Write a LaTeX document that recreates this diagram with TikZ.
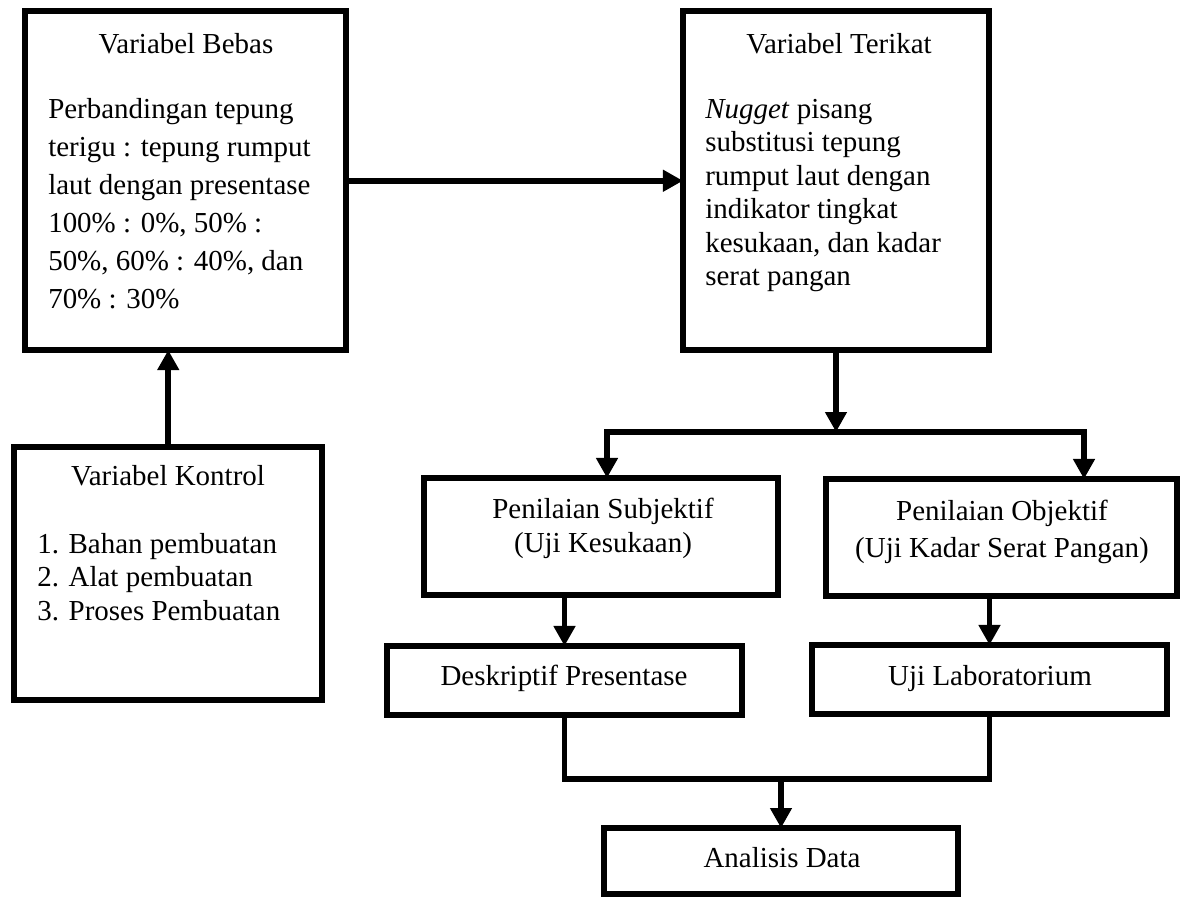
\documentclass[tikz,border=0pt]{standalone}
\usepackage{fontspec}
\setmainfont{Liberation Serif}
\usetikzlibrary{arrows.meta}

\tikzset{
  kotak/.style={draw, line width=0.15cm, inner sep=0pt, outer sep=0pt},
  garis/.style={line width=0.14cm},
  panah/.style={garis, -{Triangle[length=0.5cm,width=0.52cm]}},
  teks/.style={inner sep=0pt, font=\fontsize{20.6}{24}\selectfont},
}

\begin{document}
\begin{tikzpicture}[x=0.025cm, y=-0.025cm]
        \useasboundingbox (0,0) rectangle (1184,897);

        % kotak variabel
        \node[kotak, minimum width=8.025cm, minimum height=8.4625cm] (bebas) at (185.5,180.75) {};
        \node[kotak, minimum width=7.65cm, minimum height=8.4625cm] (terikat) at (836,180.75) {};
        \node[kotak, minimum width=7.6875cm, minimum height=6.325cm] (kontrol) at (168.25,573.5) {};

        % kotak penilaian
        \node[kotak, minimum width=8.85cm, minimum height=2.925cm] (subjektif) at (601,536.5) {};
        \node[kotak, minimum width=8.775cm, minimum height=2.925cm] (objektif) at (1001.5,537.5) {};
        \node[kotak, minimum width=8.875cm, minimum height=1.725cm] (deskriptif) at (564.5,680.5) {};
        \node[kotak, minimum width=8.875cm, minimum height=1.725cm] (ujilab) at (989.5,679.5) {};
        \node[kotak, minimum width=8.85cm, minimum height=1.65cm] (analisis) at (781,861) {};

        % teks
        \node[teks, anchor=base] (bebas-judul) at (186,53) {Variabel Bebas};
        \foreach \baris [count=\i] in {Perbandingan tepung, terigu : tepung rumput, laut dengan presentase,
            {100\% : 0\%, 50\% :}, {50\%, 60\% : 40\%, dan}, 70\% : 30\%}
            \node[teks, anchor=base west] (bebas-\i) at (48,{118+38*(\i-1)}) {\baris};

        \node[teks, anchor=base] (terikat-judul) at (839,53) {Variabel Terikat};
        \foreach \baris [count=\i] in {\textit{Nugget} pisang, substitusi tepung, rumput laut dengan,
            indikator tingkat, {kesukaan, dan kadar}, serat pangan}
            \node[teks, anchor=base west] (terikat-\i) at (705,{118+33.5*(\i-1)}) {\baris};

        \node[teks, anchor=base] (kontrol-judul) at (168,485) {Variabel Kontrol};
        \foreach \baris [count=\i] in {1. Bahan pembuatan, 2. Alat pembuatan, 3. Proses Pembuatan}
            \node[teks, anchor=base west] (kontrol-\i) at (37,{553+33.5*(\i-1)}) {\baris};

        \node[teks, anchor=base] (subjektif-1) at (603,518) {Penilaian Subjektif};
        \node[teks, anchor=base] (subjektif-2) at (603,552) {(Uji Kesukaan)};
        \node[teks, anchor=base] (objektif-1) at (1002,520) {Penilaian Objektif};
        \node[teks, anchor=base] (objektif-2) at (1002,557) {(Uji Kadar Serat Pangan)};
        \node[teks, anchor=base] (deskriptif-1) at (564,685) {Deskriptif Presentase};
        \node[teks, anchor=base] (ujilab-1) at (990,685) {Uji Laboratorium};
        \node[teks, anchor=base] (analisis-1) at (782,867) {Analisis Data};

        % panah
        \coordinate (cabang) at (836,432);
        \coordinate (kiri) at (607,432); \coordinate (kanan) at (1084,432);
        \coordinate (bawah) at (781,779);

        \draw[panah] (kontrol.north) -- (kontrol.north |- bebas.south);
        \draw[panah] (bebas.east) -- (terikat.west);
        \draw[panah] (terikat.south) -- (cabang);
        \draw[panah] (kanan) -- (kiri) -- (kiri |- subjektif.north);
        \draw[panah] (kiri) -- (kanan) -- (kanan |- objektif.north);
        \draw[panah] (deskriptif.north |- subjektif.south) -- (deskriptif.north);
        \draw[panah] (ujilab.north |- objektif.south) -- (ujilab.north);
        \draw[garis] (deskriptif.south) |- (bawah) -| (ujilab.south);
        \draw[panah] (bawah) -- (analisis.north);
\end{tikzpicture}
\end{document}
